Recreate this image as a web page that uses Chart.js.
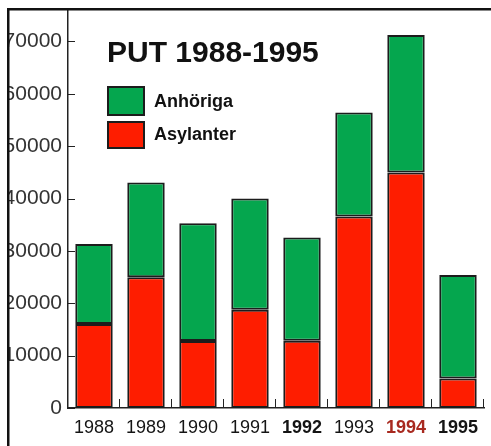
<!DOCTYPE html>
<html>
<head>
<meta charset="utf-8">
<script src="https://cdn.jsdelivr.net/npm/chart.js@4/dist/chart.umd.min.js"></script>
<style>
  html, body { margin: 0; padding: 0; background: #ffffff; }
  #wrap { width: 491px; height: 446px; position: relative; }
</style>
</head>
<body>
<div id="wrap"><canvas id="c" width="491" height="446"></canvas></div>
<script>
const chartTitle = 'PUT 1988-1995';
const years = ['1988', '1989', '1990', '1991', '1992', '1993', '1994', '1995'];
const asylanter = [16050, 24950, 12800, 18750, 12850, 36550, 44950, 5650];
const anhoriga = [15250, 18100, 22500, 21250, 19700, 19900, 26300, 19750];
const yTickValues = [0, 10000, 20000, 30000, 40000, 50000, 60000, 70000];
const yMax = 76000;

const GREEN = '#05a64e';
const RED = '#fe1d00';
const EDGE = '#1c1c1c';
const FONT = '"Liberation Sans", Arial, Helvetica, sans-serif';

const decor = {
  id: 'decor',
  afterDraw(chart) {
    const ctx = chart.ctx;
    const ca = chart.chartArea;
    const ys = chart.scales.y;
    const xs = chart.scales.x;
    ctx.save();
    // inward y tick marks
    ctx.strokeStyle = '#222';
    ctx.lineWidth = 1;
    ys.ticks.forEach(t => {
      const py = Math.round(ys.getPixelForValue(t.value)) + 0.5;
      ctx.beginPath();
      ctx.moveTo(ca.left, py);
      ctx.lineTo(ca.left + 7, py);
      ctx.stroke();
    });
    // inward x tick marks at category boundaries
    const n = years.length;
    for (let i = 1; i <= n; i++) {
      const px = Math.round(xs.left + i * (xs.width / n)) - 0.5;
      ctx.beginPath();
      ctx.moveTo(px, ca.bottom);
      ctx.lineTo(px, ca.bottom - 9);
      ctx.stroke();
    }
    // title
    ctx.fillStyle = '#111';
    ctx.font = 'bold 30px ' + FONT;
    ctx.textBaseline = 'alphabetic';
    ctx.textAlign = 'left';
    ctx.fillText(chartTitle, 107, 62);
    // legend (top dataset first)
    const ds = chart.data.datasets.slice().reverse();
    const boxes = [[86, 30, 107], [121, 28, 140]];
    ds.forEach((d, i) => {
      const [by, bh, base] = boxes[i];
      ctx.fillStyle = d.backgroundColor;
      ctx.fillRect(107, by, 38, bh);
      ctx.strokeStyle = EDGE;
      ctx.lineWidth = 2;
      ctx.strokeRect(108, by + 1, 36, bh - 2);
      ctx.fillStyle = '#111';
      ctx.font = 'bold 18px ' + FONT;
      ctx.fillText(d.label, 154, base);
    });
    // crop frame
    ctx.fillStyle = '#ffffff';
    ctx.fillRect(0, 0, 7, chart.height);
    ctx.fillRect(0, 0, chart.width, 8);
    ctx.fillStyle = '#111';
    ctx.fillRect(7, 8, 2.5, chart.height - 8);
    ctx.fillRect(7, 8, chart.width - 7, 2.5);
    ctx.restore();
  }
};

new Chart(document.getElementById('c'), {
  type: 'bar',
  data: {
    labels: years,
    datasets: [
      {
        label: 'Asylanter',
        data: asylanter,
        backgroundColor: RED,
        borderColor: EDGE,
        borderWidth: 2,
        borderSkipped: false
      },
      {
        label: 'Anhöriga',
        data: anhoriga,
        backgroundColor: GREEN,
        borderColor: EDGE,
        borderWidth: 2,
        borderSkipped: false
      }
    ]
  },
  options: {
    responsive: false,
    animation: false,
    devicePixelRatio: 1,
    layout: { padding: { top: 10, right: 7, left: 0, bottom: 0 } },
    plugins: {
      legend: { display: false },
      title: { display: false },
      tooltip: { enabled: false }
    },
    datasets: { bar: { barPercentage: 0.72, categoryPercentage: 1.0 } },
    scales: {
      x: {
        stacked: true,
        grid: { display: false, drawTicks: false },
        border: { display: true, color: '#222', width: 1.5 },
        ticks: {
          padding: 9,
          maxRotation: 0,
          autoSkip: false,
          color: (c) => c.index === 6 ? '#a8291f' : '#141414',
          font: (c) => ({
            family: FONT,
            size: 18,
            weight: (c.index === 4 || c.index === 6 || c.index === 7) ? 'bold' : 'normal'
          })
        },
        afterFit: (s) => { s.height = 38; s.paddingLeft = 0; s.paddingRight = 0; }
      },
      y: {
        stacked: true,
        min: 0,
        max: yMax,
        grid: { display: false, drawTicks: false },
        border: { display: true, color: '#222', width: 1.5 },
        afterBuildTicks: (s) => { s.ticks = yTickValues.map(v => ({ value: v })); },
        ticks: {
          padding: 6,
          color: '#333',
          font: { family: FONT, size: 21 },
          callback: (v) => String(v)
        },
        afterFit: (s) => { s.width = 68; s.paddingTop = 0; s.paddingBottom = 0; }
      }
    }
  },
  plugins: [decor]
});
</script>
</body>
</html>
